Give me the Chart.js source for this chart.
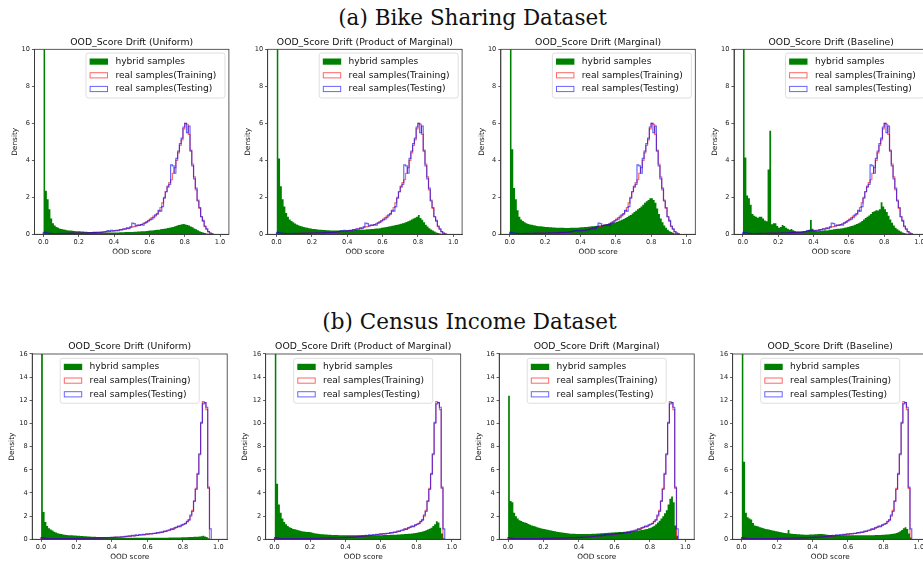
<!DOCTYPE html>
<html>
<head>
<meta charset="utf-8">
<title>OOD score drift</title>
<script src="https://cdn.jsdelivr.net/npm/chart.js@4.4.0/dist/chart.umd.min.js"></script>
<style>
  html, body { margin: 0; padding: 0; background: #fff; }
  body { position: relative; width: 923px; height: 568px; overflow: hidden; }
  .fig-title { position: absolute; left: 0; text-align: center; font-family: "DejaVu Serif", serif; font-size: 21.5px; line-height: 24px; color: #111; white-space: nowrap; }
  canvas { position: absolute; }
</style>
</head>
<body>
<div class="fig-title" style="top:5.5px;width:945px">(a) Bike Sharing Dataset</div>
<div class="fig-title" style="top:309.5px;width:939px">(b) Census Income Dataset</div>

<script>
// histogram bins: 100 bins of 0.01 on the OOD score axis, values are densities
const binWidth = 0.01;
const scoreTicks = [0, 0.2, 0.4, 0.6, 0.8, 1.0];
const bikeDensityTicks = [0, 2, 4, 6, 8, 10];
const censusDensityTicks = [0, 2, 4, 6, 8, 10, 12, 14, 16];
const methodNames = ["Uniform", "Product of Marginal", "Marginal", "Baseline"];
const legendLabels = ["hybrid samples", "real samples(Training)", "real samples(Testing)"];

// (a) Bike Sharing - real samples
const bikeTrain = [
  0.04,0.05,0.05,0.04,0.04,0.04,0.03,0.04,0.04,0.04,
  0.04,0.05,0.05,0.05,0.05,0.05,0.06,0.06,0.06,0.06,
  0.06,0.07,0.07,0.07,0.08,0.08,0.08,0.09,0.09,0.10,
  0.10,0.11,0.12,0.12,0.13,0.14,0.15,0.16,0.17,0.18,
  0.19,0.20,0.22,0.24,0.26,0.28,0.30,0.32,0.34,0.37,
  0.40,0.42,0.45,0.48,0.50,0.53,0.58,0.62,0.68,0.74,
  0.82,0.90,0.98,1.00,1.10,1.25,1.45,1.70,2.00,2.30,
  2.60,2.80,2.95,3.30,3.60,4.00,4.40,4.80,5.10,5.70,
  6.00,5.95,5.40,4.55,3.80,3.10,2.40,1.85,1.40,0.95,
  0.70,0.42,0.27,0.15,0.06,0.02,0,0,0,0
];
const bikeTest = [
  0.10,0.08,0.06,0.05,0.05,0.04,0.04,0.04,0.05,0.04,
  0.05,0.05,0.04,0.05,0.06,0.05,0.06,0.05,0.06,0.06,
  0.07,0.06,0.08,0.07,0.08,0.07,0.09,0.08,0.10,0.09,
  0.10,0.11,0.10,0.12,0.13,0.15,0.20,0.17,0.22,0.18,
  0.20,0.22,0.20,0.25,0.24,0.30,0.28,0.35,0.30,0.40,
  0.60,0.58,0.45,0.50,0.48,0.52,0.50,0.60,0.65,0.72,
  0.78,0.82,0.90,1.05,1.10,1.30,1.25,1.50,1.95,2.30,
  2.55,2.70,3.75,3.70,3.30,4.10,4.50,4.90,5.20,5.80,
  6.00,5.50,5.85,4.50,3.70,3.00,2.50,1.80,1.45,0.95,
  0.75,0.45,0.30,0.15,0.06,0.02,0,0,0,0
];
// (a) Bike Sharing - hybrid samples per method
const bikeUniform = [
  20,2.35,1.90,1.35,0.85,0.60,0.48,0.40,0.35,0.30,
  0.28,0.26,0.24,0.22,0.21,0.20,0.19,0.18,0.17,0.17,
  0.16,0.15,0.15,0.14,0.14,0.13,0.13,0.12,0.12,0.12,
  0.11,0.11,0.11,0.10,0.10,0.10,0.10,0.10,0.10,0.10,
  0.10,0.10,0.10,0.11,0.11,0.11,0.12,0.12,0.12,0.13,
  0.13,0.14,0.14,0.15,0.15,0.16,0.16,0.17,0.18,0.19,
  0.20,0.21,0.22,0.23,0.24,0.25,0.27,0.29,0.30,0.32,
  0.34,0.36,0.38,0.40,0.43,0.46,0.50,0.52,0.55,0.56,
  0.53,0.50,0.47,0.42,0.38,0.32,0.27,0.22,0.17,0.13,
  0.10,0.07,0.05,0.03,0.02,0.01,0,0,0,0
];
const bikeProduct = [
  20,4.10,2.60,1.90,1.50,1.15,0.95,0.80,0.72,0.65,
  0.58,0.53,0.49,0.45,0.42,0.39,0.37,0.35,0.33,0.31,
  0.29,0.28,0.27,0.26,0.25,0.24,0.23,0.23,0.22,0.22,
  0.21,0.21,0.21,0.20,0.20,0.20,0.20,0.20,0.21,0.21,
  0.21,0.22,0.22,0.22,0.23,0.23,0.24,0.24,0.25,0.25,
  0.26,0.27,0.27,0.28,0.29,0.30,0.31,0.32,0.33,0.35,
  0.37,0.38,0.40,0.42,0.44,0.46,0.48,0.50,0.52,0.55,
  0.57,0.60,0.63,0.67,0.70,0.75,0.80,0.85,0.90,0.95,
  1.05,0.88,0.78,0.65,0.52,0.42,0.33,0.26,0.20,0.15,
  0.10,0.07,0.05,0.03,0.02,0.01,0,0,0,0
];
const bikeMarginal = [
  20,4.60,2.50,1.90,1.30,0.95,0.80,0.72,0.65,0.60,
  0.56,0.53,0.51,0.49,0.47,0.45,0.44,0.43,0.42,0.41,
  0.40,0.39,0.38,0.38,0.37,0.37,0.36,0.36,0.35,0.35,
  0.35,0.34,0.34,0.34,0.35,0.35,0.35,0.36,0.36,0.37,
  0.38,0.38,0.39,0.40,0.41,0.42,0.43,0.44,0.45,0.46,
  0.47,0.48,0.50,0.52,0.54,0.56,0.58,0.60,0.62,0.64,
  0.67,0.70,0.74,0.78,0.83,0.88,0.94,1.00,1.05,1.12,
  1.20,1.27,1.35,1.42,1.50,1.60,1.70,1.78,1.85,1.95,
  1.95,1.85,1.70,1.40,1.10,0.85,0.65,0.48,0.35,0.25,
  0.17,0.12,0.08,0.05,0.03,0.01,0,0,0,0
];
const bikeBaseline = [
  20,4.15,2.10,1.95,1.60,1.10,1.00,0.95,0.90,0.95,
  0.95,0.85,0.75,0.70,3.50,5.60,0.55,0.60,0.60,0.45,
  0.35,0.40,0.50,0.45,0.35,0.30,0.25,0.28,0.22,0.18,
  0.15,0.15,0.14,0.15,0.16,0.18,0.20,0.25,0.77,0.30,
  0.20,0.18,0.17,0.20,0.18,0.20,0.22,0.20,0.22,0.24,
  0.25,0.27,0.28,0.30,0.30,0.32,0.33,0.35,0.37,0.39,
  0.42,0.45,0.48,0.52,0.56,0.60,0.65,0.72,0.80,0.88,
  0.95,1.02,1.10,1.20,1.25,1.30,1.28,1.35,1.73,1.50,
  1.35,1.20,1.00,0.80,0.62,0.48,0.36,0.27,0.20,0.15,
  0.10,0.07,0.05,0.03,0.02,0.01,0,0,0,0
];

// (b) Census Income - real samples
const censusTrain = [
  0.10,0.08,0.07,0.06,0.06,0.06,0.05,0.05,0.05,0.05,
  0.05,0.05,0.05,0.06,0.06,0.06,0.06,0.06,0.07,0.07,
  0.07,0.07,0.08,0.08,0.08,0.09,0.09,0.10,0.10,0.10,
  0.11,0.11,0.12,0.12,0.13,0.13,0.14,0.14,0.15,0.15,
  0.16,0.17,0.18,0.19,0.20,0.21,0.22,0.23,0.25,0.26,
  0.28,0.29,0.30,0.31,0.33,0.35,0.37,0.38,0.40,0.42,
  0.44,0.46,0.48,0.50,0.52,0.55,0.58,0.60,0.63,0.66,
  0.70,0.74,0.80,0.85,0.90,0.95,1.02,1.10,1.15,1.20,
  1.30,1.38,1.50,1.70,2.00,2.50,3.30,4.40,5.70,7.40,
  10.0,11.9,11.8,11.2,4.40,0,0,0,0,0
];
const censusTest = [
  0.15,0.10,0.08,0.07,0.06,0.06,0.05,0.05,0.05,0.05,
  0.05,0.05,0.06,0.05,0.06,0.06,0.05,0.06,0.07,0.06,
  0.08,0.07,0.08,0.09,0.08,0.09,0.10,0.09,0.10,0.11,
  0.10,0.12,0.11,0.13,0.12,0.14,0.13,0.15,0.14,0.16,
  0.15,0.18,0.17,0.20,0.19,0.22,0.21,0.25,0.24,0.30,
  0.28,0.35,0.30,0.38,0.33,0.40,0.37,0.42,0.40,0.48,
  0.44,0.50,0.46,0.52,0.50,0.58,0.55,0.62,0.60,0.70,
  0.68,0.78,0.80,0.90,0.85,1.00,1.05,1.15,1.10,1.25,
  1.30,1.35,1.55,1.65,2.10,2.40,3.30,4.30,5.60,7.30,
  10.1,11.7,11.8,11.4,4.50,0.90,0,0,0,0
];
// (b) Census Income - hybrid samples per method
const censusUniform = [
  25,2.35,1.50,1.15,0.95,0.85,0.75,0.65,0.58,0.52,
  0.48,0.45,0.42,0.40,0.38,0.36,0.35,0.34,0.33,0.32,
  0.31,0.30,0.29,0.28,0.27,0.26,0.25,0.24,0.23,0.22,
  0.21,0.20,0.20,0.19,0.19,0.18,0.18,0.17,0.17,0.16,
  0.16,0.16,0.15,0.15,0.15,0.15,0.14,0.14,0.14,0.14,
  0.14,0.14,0.14,0.14,0.14,0.14,0.14,0.14,0.14,0.14,
  0.14,0.14,0.14,0.14,0.14,0.14,0.14,0.14,0.14,0.14,
  0.14,0.14,0.15,0.15,0.15,0.15,0.16,0.16,0.16,0.17,
  0.17,0.18,0.18,0.19,0.20,0.20,0.21,0.22,0.23,0.25,
  0.27,0.30,0.25,0.20,0.10,0.03,0,0,0,0
];
const censusProduct = [
  25,4.80,3.00,2.30,1.80,1.50,1.30,1.15,1.05,0.97,
  0.90,0.86,0.82,0.78,0.74,0.70,0.68,0.66,0.64,0.62,
  0.60,0.57,0.53,0.50,0.48,0.46,0.44,0.43,0.42,0.41,
  0.40,0.39,0.38,0.38,0.37,0.37,0.36,0.36,0.36,0.35,
  0.35,0.35,0.35,0.35,0.35,0.35,0.35,0.35,0.35,0.35,
  0.35,0.35,0.35,0.35,0.35,0.35,0.35,0.35,0.36,0.36,
  0.36,0.37,0.37,0.38,0.38,0.39,0.39,0.40,0.40,0.41,
  0.42,0.43,0.44,0.45,0.46,0.47,0.48,0.50,0.52,0.54,
  0.56,0.60,0.63,0.67,0.72,0.78,0.85,0.92,1.00,1.15,
  1.30,1.55,1.45,1.00,0.50,0.10,0,0,0,0
];
const censusMarginal = [
  12.4,3.30,3.20,2.30,2.00,1.80,1.65,1.58,1.50,1.45,
  1.40,1.33,1.25,1.20,1.15,1.10,1.05,1.00,0.96,0.92,
  0.88,0.85,0.82,0.78,0.75,0.72,0.69,0.66,0.63,0.60,
  0.58,0.56,0.54,0.52,0.50,0.49,0.48,0.47,0.46,0.46,
  0.45,0.45,0.45,0.45,0.45,0.46,0.46,0.47,0.48,0.49,
  0.50,0.51,0.52,0.53,0.54,0.55,0.56,0.57,0.58,0.59,
  0.60,0.61,0.62,0.63,0.64,0.65,0.66,0.67,0.68,0.69,
  0.70,0.72,0.74,0.76,0.78,0.80,0.83,0.86,0.90,0.95,
  1.00,1.08,1.18,1.30,1.45,1.60,1.80,2.00,2.25,2.50,
  3.00,3.50,3.70,3.20,1.20,0.30,0,0,0,0
];
const censusBaseline = [
  25,6.70,2.30,1.90,1.80,1.70,1.40,1.20,1.15,1.10,
  1.05,1.00,0.95,0.90,0.87,0.84,0.80,0.77,0.74,0.70,
  0.67,0.64,0.60,0.57,0.55,0.52,0.80,0.50,0.48,0.46,
  0.45,0.44,0.43,0.42,0.41,0.40,0.40,0.40,0.41,0.42,
  0.42,0.43,0.44,0.45,0.46,0.45,0.44,0.42,0.40,0.38,
  0.37,0.36,0.35,0.35,0.35,0.35,0.35,0.35,0.35,0.35,
  0.35,0.35,0.35,0.35,0.35,0.35,0.35,0.35,0.35,0.35,
  0.35,0.35,0.36,0.36,0.36,0.37,0.37,0.38,0.38,0.39,
  0.40,0.41,0.42,0.43,0.45,0.47,0.50,0.55,0.60,0.70,
  0.80,0.95,1.05,0.90,0.50,0.15,0,0,0,0
];

Chart.defaults.font.family = "'DejaVu Sans', sans-serif";
Chart.defaults.animation = false;

const HYBRID = "#008000";
const TRAIN = "rgba(255, 0, 0, 0.6)";
const TEST = "rgba(0, 0, 255, 0.6)";

// outline of a histogram: stepped line over the bin edges
function stepPoints(heights) {
  let last = heights.length - 1;
  while (last > 0 && heights[last] === 0) last--;
  const pts = [{ x: 0, y: 0 }];
  for (let i = 0; i <= last; i++) pts.push({ x: i * binWidth, y: heights[i] });
  pts.push({ x: (last + 1) * binWidth, y: 0 });
  return pts;
}

// legend box inside the axes + the full axes frame
const histLegend = {
  id: "histLegend",
  afterDatasetsDraw(chart, args, opts) {
    const ctx = chart.ctx;
    const a = chart.chartArea;
    ctx.save();
    ctx.strokeStyle = "#333";
    ctx.lineWidth = 0.8;
    ctx.strokeRect(a.left, a.top, a.right - a.left, a.bottom - a.top);

    const x0 = a.left + opts.dx, y0 = a.top + opts.dy;
    ctx.beginPath();
    ctx.roundRect(x0, y0, 139, 45, 2.5);
    ctx.fillStyle = "rgba(255,255,255,0.8)";
    ctx.fill();
    ctx.strokeStyle = "#d6d6d6";
    ctx.lineWidth = 0.8;
    ctx.stroke();

    ctx.font = "9.1px 'DejaVu Sans'";
    ctx.textBaseline = "middle";
    ctx.textAlign = "left";
    opts.items.forEach((it, k) => {
      const cy = y0 + 8.6 + k * 13.7;
      if (it.filled) {
        ctx.fillStyle = it.color;
        ctx.fillRect(x0 + 3.6, cy - 3.1, 18.4, 6.2);
      } else {
        ctx.strokeStyle = it.color;
        ctx.lineWidth = 1;
        ctx.strokeRect(x0 + 4.1, cy - 2.6, 17.4, 5.2);
      }
      ctx.fillStyle = "#111";
      ctx.fillText(it.label, x0 + 29.4, cy);
    });
    ctx.restore();
  }
};

const rows = [
  { hybrid: [bikeUniform, bikeProduct, bikeMarginal, bikeBaseline], train: bikeTrain, test: bikeTest,
    yTicks: bikeDensityTicks, lefts: [34.5, 267.7, 500.9, 734.0], axesTop: 49.3, w: 194.4, h: 185,
    yw: 25.4, legendDx: 51.5, legendDy: 3.7 },
  { hybrid: [censusUniform, censusProduct, censusMarginal, censusBaseline], train: censusTrain, test: censusTest,
    yTicks: censusDensityTicks, lefts: [32.2, 265.7, 499.2, 732.7], axesTop: 354, w: 195, h: 185.3,
    yw: 26.4, legendDx: 28, legendDy: 4.3 }
];

const TITLE_BLOCK = 14.56;  // title line + padding above the axes
const X_AXIS_H = 23;

rows.forEach(row => {
  row.lefts.forEach((L, p) => {
    const cLeft = Math.round(L - row.yw);
    const yw = L - cLeft;
    const cTop = Math.floor(row.axesTop - TITLE_BLOCK);
    const padTop = row.axesTop - TITLE_BLOCK - cTop;
    const width = Math.ceil(yw + row.w + 2);
    const height = Math.ceil(padTop + TITLE_BLOCK + row.h + X_AXIS_H);
    const rightPad = width - yw - row.w;
    const bottomPad = height - (padTop + TITLE_BLOCK + row.h + X_AXIS_H);

    const canvas = document.createElement("canvas");
    canvas.width = width;
    canvas.height = height;
    canvas.style.left = cLeft + "px";
    canvas.style.top = cTop + "px";
    canvas.style.width = width + "px";
    canvas.style.height = height + "px";
    document.body.appendChild(canvas);

    new Chart(canvas.getContext("2d"), {
      type: "line",
      data: {
        datasets: [
          { label: legendLabels[0], data: stepPoints(row.hybrid[p]), stepped: true, fill: "origin",
            backgroundColor: HYBRID, borderColor: HYBRID, borderWidth: 0, pointRadius: 0, order: 3 },
          { label: legendLabels[1], data: stepPoints(row.train), stepped: true, fill: false,
            borderColor: TRAIN, borderWidth: 1.2, pointRadius: 0, order: 2 },
          { label: legendLabels[2], data: stepPoints(row.test), stepped: true, fill: false,
            borderColor: TEST, borderWidth: 1.2, pointRadius: 0, order: 1 }
        ]
      },
      options: {
        responsive: false,
        events: [],
        layout: { padding: { left: 0, right: rightPad, top: padTop, bottom: bottomPad } },
        scales: {
          x: {
            type: "linear",
            min: -0.05,
            max: 1.05,
            afterBuildTicks: s => { s.ticks = scoreTicks.map(v => ({ value: v })); },
            afterFit: s => { s.height = X_AXIS_H; },
            ticks: { autoSkip: false, maxRotation: 0, padding: 1.2, color: "#222",
                     font: { size: 6.6 }, callback: v => v.toFixed(1) },
            grid: { drawOnChartArea: false, drawTicks: true, tickLength: 2.6, tickWidth: 0.8, tickColor: "#333" },
            border: { display: true, color: "#333", width: 0.8 },
            title: { display: true, text: "OOD score", color: "#111", font: { size: 7.3 },
                     padding: { top: 0, bottom: 0.9 } }
          },
          y: {
            type: "linear",
            min: row.yTicks[0],
            max: row.yTicks[row.yTicks.length - 1],
            afterBuildTicks: s => { s.ticks = row.yTicks.map(v => ({ value: v })); },
            afterFit: s => { s.width = yw; },
            ticks: { autoSkip: false, padding: 2, color: "#222", font: { size: 6.6 } },
            grid: { drawOnChartArea: false, drawTicks: true, tickLength: 2.6, tickWidth: 0.8, tickColor: "#333" },
            border: { display: true, color: "#333", width: 0.8 },
            title: { display: true, text: "Density", color: "#111", font: { size: 7.4 },
                     padding: { top: 1.5, bottom: 0 } }
          }
        },
        plugins: {
          legend: { display: false },
          tooltip: { enabled: false },
          title: {
            display: true,
            fullSize: false,
            text: "OOD_Score Drift (" + methodNames[p] + ")",
            color: "#111",
            font: { size: 9.3, weight: "normal" },
            padding: { top: 2, bottom: 1.4 }
          },
          histLegend: {
            dx: row.legendDx,
            dy: row.legendDy,
            items: [
              { label: legendLabels[0], color: HYBRID, filled: true },
              { label: legendLabels[1], color: TRAIN, filled: false },
              { label: legendLabels[2], color: TEST, filled: false }
            ]
          }
        }
      },
      plugins: [histLegend]
    });
  });
});
</script>
</body>
</html>
